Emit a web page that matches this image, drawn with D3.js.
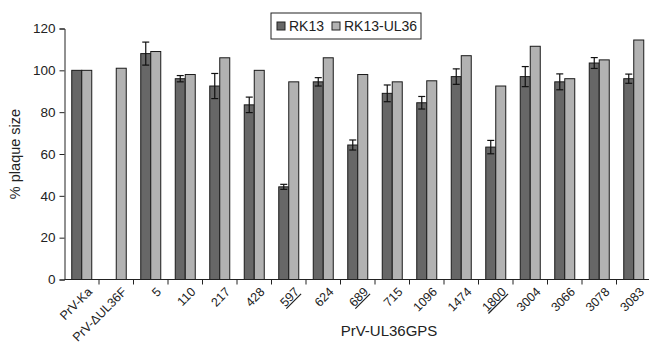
<!DOCTYPE html>
<html>
<head>
<meta charset="utf-8">
<script src="https://cdn.jsdelivr.net/npm/d3@7"></script>
<style>
  body { margin: 0; background: #fff; }
  svg { font-family: "Liberation Sans", Arial, sans-serif; }
</style>
</head>
<body>
<div id="chart-area"></div>
<script>
// categories along the x axis
const categories = ['PrV-Ka', 'PrV-\u0394UL36F', '5', '110', '217', '428', '597', '624', '689',
    '715', '1096', '1474', '1800', '3004', '3066', '3078', '3083']
const underlined = ['597', '689', '1800']

// % plaque size
const rk13 = [100, 0, 108, 96, 92.5, 83.5, 44.3, 94.5, 64.3, 89, 84.5, 97, 63.3, 97, 94.5, 103.5, 96]
const rk13Err = [0, 0, 5.5, 1.5, 6, 3.7, 1.2, 2, 2.4, 4, 3, 3.7, 3.2, 4.8, 3.8, 2.6, 2.2]
const rk13UL36 = [100, 101, 109, 98, 106, 100, 94.5, 106, 98, 94.5, 95, 107, 92.5, 111.5, 96, 105, 114.5]

const seriesNames = ['RK13', 'RK13-UL36']
const yTicks = [0, 20, 40, 60, 80, 100, 120]

const W = 649, H = 344
const margin = { left: 64.5, top: 28.5, right: -2, bottom: 64.5 }
const width = W - margin.left - margin.right
const height = H - margin.top - margin.bottom

const svg = d3.select('#chart-area').append('svg')
    .attr('width', W)
    .attr('height', H)

const group = svg.append('g')
    .attr('transform', `translate(${margin.left}, ${margin.top})`)

const scaleX = d3.scaleBand()
    .domain(categories)
    .range([0, width])

const scaleY = d3.scaleLinear()
    .domain([0, 120])
    .range([height, 0])

const barW = 10
const colors = ['#676767', '#b2b2b2']

// y axis
const yAxisCall = d3.axisLeft(scaleY)
    .tickValues(yTicks)
    .tickSize(5)
    .tickPadding(4)
const yAxis = group.append('g')
    .call(yAxisCall)
yAxis.select('.domain').attr('stroke', '#222')
yAxis.selectAll('.tick line').attr('stroke', '#222')
yAxis.selectAll('text').attr('font-size', '13.5px').attr('fill', '#222')
    .attr('font-family', '"Liberation Sans", Arial, sans-serif')

// bars
const rows = categories.map((c, i) => ({ c, v: [rk13[i], rk13UL36[i]], e: rk13Err[i] }))

const pairs = group.selectAll('g.pair').data(rows).enter()
    .append('g')
    .attr('class', 'pair')
    .attr('transform', d => `translate(${scaleX(d.c) + scaleX.bandwidth() / 2}, 0)`)

pairs.selectAll('rect').data(d => d.v).enter()
    .append('rect')
    .attr('x', (d, j) => j === 0 ? -barW : 0)
    .attr('y', d => scaleY(d))
    .attr('width', barW)
    .attr('height', d => height - scaleY(d))
    .attr('fill', (d, j) => colors[j])
    .attr('stroke', '#1a1a1a')
    .attr('stroke-width', 1)

// error bars on RK13
const errs = pairs.filter(d => d.e > 0).append('g')
    .attr('stroke', '#111')
    .attr('stroke-width', 1.2)
errs.append('line')
    .attr('x1', -barW / 2).attr('x2', -barW / 2)
    .attr('y1', d => scaleY(d.v[0] + d.e))
    .attr('y2', d => scaleY(d.v[0] - d.e))
errs.append('line')
    .attr('x1', -barW / 2 - 3.5).attr('x2', -barW / 2 + 3.5)
    .attr('y1', d => scaleY(d.v[0] + d.e))
    .attr('y2', d => scaleY(d.v[0] + d.e))
errs.append('line')
    .attr('x1', -barW / 2 - 3.5).attr('x2', -barW / 2 + 3.5)
    .attr('y1', d => scaleY(d.v[0] - d.e))
    .attr('y2', d => scaleY(d.v[0] - d.e))

// x axis: ticks at band boundaries
const xAxis = group.append('g')
    .attr('transform', `translate(0, ${height})`)
xAxis.append('line')
    .attr('x1', 0).attr('x2', width)
    .attr('stroke', '#222')
xAxis.selectAll('line.tick').data(categories.slice(1)).enter()
    .append('line')
    .attr('class', 'tick')
    .attr('x1', d => scaleX(d)).attr('x2', d => scaleX(d))
    .attr('y1', 0).attr('y2', 5)
    .attr('stroke', '#222')
xAxis.selectAll('text').data(categories).enter()
    .append('text')
    .attr('transform', d => `translate(${scaleX(d) + scaleX.bandwidth() / 2 + 5}, 7) rotate(-45)`)
    .attr('text-anchor', 'end')
    .attr('dy', '0.7em')
    .attr('font-size', '12.5px')
    .attr('fill', '#222')
    .style('text-decoration', d => underlined.includes(d) ? 'underline' : 'none')
    .text(d => d)

// axis labels
group.append('text')
    .attr('x', -height / 2)
    .attr('y', -45)
    .attr('transform', 'rotate(-90)')
    .attr('text-anchor', 'middle')
    .attr('font-size', '14.5px')
    .attr('fill', '#222')
    .text('% plaque size')

svg.append('text')
    .attr('x', 389)
    .attr('y', 336)
    .attr('text-anchor', 'middle')
    .attr('font-size', '15px')
    .attr('fill', '#222')
    .text('PrV-UL36GPS')

// legend
const legend = svg.append('g').attr('transform', 'translate(271, 13)')
legend.append('rect')
    .attr('width', 150).attr('height', 26)
    .attr('fill', '#fff').attr('stroke', '#222')
const items = legend.selectAll('g.item').data(seriesNames).enter()
    .append('g')
    .attr('transform', (d, i) => `translate(${i === 0 ? 6 : 61}, 0)`)
items.append('rect')
    .attr('x', 0).attr('y', 9)
    .attr('width', 8).attr('height', 8)
    .attr('fill', (d, i) => colors[i])
    .attr('stroke', '#222')
items.append('text')
    .attr('x', 12).attr('y', 18)
    .attr('font-size', '14px')
    .attr('fill', '#222')
    .text(d => d)
</script>
</body>
</html>
